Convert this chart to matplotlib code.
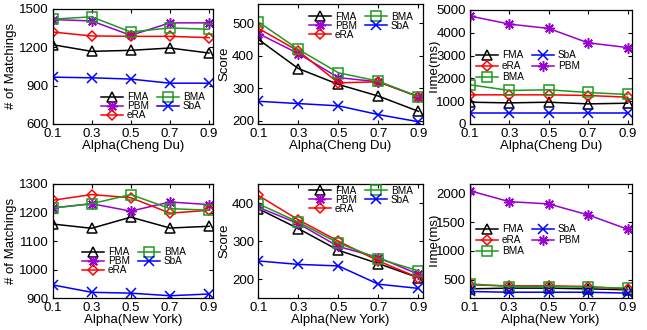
import matplotlib
matplotlib.use("Agg")
import matplotlib.pyplot as plt
from matplotlib.transforms import Bbox, TransformedBbox

plt.rcParams['font.family'] = ['Liberation Sans', 'DejaVu Sans']

alpha = [0.1, 0.3, 0.5, 0.7, 0.9]
xticklabels = ['0.1', '0.3', '0.5', '0.7', '0.9']

# Cheng Du
cd_match_FMA = [1218, 1166, 1174, 1192, 1153]
cd_match_PBM = [1414, 1403, 1291, 1388, 1388]
cd_match_eRA = [1317, 1286, 1283, 1283, 1273]
cd_match_BMA = [1417, 1435, 1317, 1349, 1338]
cd_match_SbA = [965, 960, 950, 918, 918]

cd_score_FMA = [451, 361, 312, 276, 229]
cd_score_PBM = [469, 407, 333, 320, 274]
cd_score_eRA = [485, 415, 317, 320, 274]
cd_score_BMA = [505, 420, 348, 322, 274]
cd_score_SbA = [260, 253, 246, 219, 197]

cd_time_FMA = [956, 926, 956, 882, 912]
cd_time_PBM = [4735, 4382, 4191, 3559, 3353]
cd_time_eRA = [1279, 1279, 1279, 1250, 1176]
cd_time_BMA = [1720, 1470, 1500, 1382, 1294]
cd_time_SbA = [470, 470, 470, 470, 470]

# New York
ny_match_FMA = [1160, 1145, 1184, 1146, 1152]
ny_match_PBM = [1216, 1231, 1205, 1237, 1228]
ny_match_eRA = [1243, 1263, 1252, 1198, 1208]
ny_match_BMA = [1216, 1231, 1263, 1214, 1208]
ny_match_SbA = [947, 921, 918, 909, 915]

ny_score_FMA = [385, 333, 276, 241, 204]
ny_score_PBM = [389, 346, 286, 257, 213]
ny_score_eRA = [420, 356, 300, 248, 204]
ny_score_BMA = [398, 350, 295, 254, 222]
ny_score_SbA = [248, 239, 235, 187, 176]

ny_time_FMA = [344, 356, 356, 344, 327]
ny_time_PBM = [2045, 1855, 1815, 1625, 1377]
ny_time_eRA = [413, 396, 396, 384, 339]
ny_time_BMA = [431, 384, 384, 373, 356]
ny_time_SbA = [298, 285, 285, 285, 270]

styles = {
    'FMA': dict(color='black', marker='^', mfc='none', ms=7),
    'PBM': dict(color='#9A00D0', marker=(8, 2, 0), mfc='none', ms=7.5),
    'eRA': dict(color='#FF0000', marker='D', mfc='none', ms=5),
    'BMA': dict(color='#1E9A1E', marker='s', mfc='none', ms=7),
    'SbA': dict(color='#0000FF', marker='x', mfc='none', ms=7),
}

W, H = 647, 330
fig = plt.figure(figsize=(W / 100, H / 100), dpi=100)


def add_ax(x0, y0, x1, y1):
    return fig.add_axes([x0 / W, 1 - y1 / H, (x1 - x0) / W, (y1 - y0) / H])


def draw(ax, series, ylim, yticks, xlabel, ylabel, legend_order, leg_xy, labelspacing, ylabelpad=1):
    for name, vals in series.items():
        ax.plot(alpha, vals, label=name, lw=1.1, mew=1.1, **styles[name])
    ax.set_xlim(0.1, 0.92)
    ax.set_ylim(*ylim)
    ax.set_xticks(alpha)
    ax.set_xticklabels(xticklabels)
    ax.set_yticks(yticks)
    ax.tick_params(direction='in', top=True, right=True, labelsize=9.5, length=3, pad=3)
    ax.set_xlabel(xlabel, fontsize=9.5, labelpad=0)
    ax.set_ylabel(ylabel, fontsize=9.5, labelpad=ylabelpad)
    for sp in ax.spines.values():
        sp.set_linewidth(0.9)
    handles = {h.get_label(): h for h in ax.get_lines()}
    hs = [handles[n] for n in legend_order]
    ax.legend(hs, legend_order, ncol=2, frameon=False, fontsize=7.2,
              loc='upper left', bbox_to_anchor=(leg_xy[0] / W, 1 - leg_xy[1] / H),
              bbox_transform=fig.transFigure, borderpad=0, borderaxespad=0,
              handlelength=2.2, handletextpad=0.4, columnspacing=0.8,
              labelspacing=labelspacing)
    return ax


# Top row
ax1 = add_ax(52.5, 8.5, 213, 124)
draw(ax1, {'FMA': cd_match_FMA, 'PBM': cd_match_PBM, 'eRA': cd_match_eRA,
           'BMA': cd_match_BMA, 'SbA': cd_match_SbA},
     (600, 1500), [600, 900, 1200, 1500], 'Alpha(Cheng Du)', '# of Matchings',
     ['FMA', 'PBM', 'eRA', 'BMA', 'SbA'], (101, 92), -0.08)

ax2 = add_ax(258.3, 4, 422.5, 124)
draw(ax2, {'FMA': cd_score_FMA, 'PBM': cd_score_PBM, 'eRA': cd_score_eRA,
           'BMA': cd_score_BMA, 'SbA': cd_score_SbA},
     (190, 560), [200, 300, 400, 500], 'Alpha(Cheng Du)', 'Score',
     ['FMA', 'PBM', 'eRA', 'BMA', 'SbA'], (309, 11.5), -0.08)

ax3 = add_ax(470, 10, 631.5, 124)
draw(ax3, {'FMA': cd_time_FMA, 'eRA': cd_time_eRA, 'BMA': cd_time_BMA,
           'SbA': cd_time_SbA, 'PBM': cd_time_PBM},
     (0, 5000), [0, 1000, 2000, 3000, 4000, 5000], 'Alpha(Cheng Du)', 'Time(ms)',
     ['FMA', 'eRA', 'BMA', 'SbA', 'PBM'], (476, 50), 0.12, ylabelpad=-3.5)

# Bottom row
ax4 = add_ax(52.5, 184, 213, 298.3)
draw(ax4, {'FMA': ny_match_FMA, 'PBM': ny_match_PBM, 'eRA': ny_match_eRA,
           'BMA': ny_match_BMA, 'SbA': ny_match_SbA},
     (900, 1300), [900, 1000, 1100, 1200, 1300], 'Alpha(New York)', '# of Matchings',
     ['FMA', 'PBM', 'eRA', 'BMA', 'SbA'], (82, 247), -0.08)

ax5 = add_ax(258.3, 184, 422.5, 298.3)
draw(ax5, {'FMA': ny_score_FMA, 'PBM': ny_score_PBM, 'eRA': ny_score_eRA,
           'BMA': ny_score_BMA, 'SbA': ny_score_SbA},
     (150, 450), [200, 300, 400], 'Alpha(New York)', 'Score',
     ['FMA', 'PBM', 'eRA', 'BMA', 'SbA'], (309, 185.5), -0.08)

ax6 = add_ax(469.5, 184, 631.5, 298.3)
draw(ax6, {'FMA': ny_time_FMA, 'eRA': ny_time_eRA, 'BMA': ny_time_BMA,
           'SbA': ny_time_SbA, 'PBM': ny_time_PBM},
     (180, 2160), [500, 1000, 1500, 2000], 'Alpha(New York)', 'Time(ms)',
     ['FMA', 'eRA', 'BMA', 'SbA', 'PBM'], (476, 224), 0.12, ylabelpad=-3.5)

for ax in (ax3, ax6):
    lab = ax.yaxis.label
    lab.set_clip_box(TransformedBbox(Bbox([[429 / W, 0], [1, 1]]), fig.transFigure))
    lab.set_clip_on(True)

fig.savefig('out.png', dpi=100)
